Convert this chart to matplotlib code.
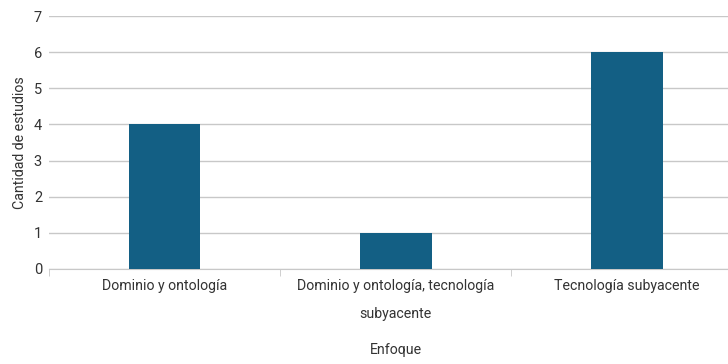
import matplotlib.pyplot as plt
import numpy as np

# data
categories = ['Dominio y ontología', 'Dominio y ontología, tecnología\nsubyacente', 'Tecnología subyacente']
counts = [4, 1, 6]

plt.rcParams['font.family'] = ['Roboto', 'DejaVu Sans']
plt.rcParams['font.weight'] = 'normal'

fig = plt.figure(figsize=(7.28, 3.64), dpi=100)
ax = fig.add_axes([49 / 728, 95 / 364, 693.5 / 728, 253 / 364])

x = np.arange(len(categories))
ax.bar(x, counts, width=0.31, color='#135f84', zorder=3)

ax.set_xlim(-0.5, 2.5)
ax.set_ylim(0, 7)
ax.set_yticks(range(8))
ax.yaxis.grid(True, color='#c8c8c8', linewidth=1, zorder=0)

txt = '#333333'
ax.set_xticks(x)
ax.set_xticklabels(categories, fontsize=10.2, color=txt, linespacing=2.2)
ax.set_xticks(np.arange(-0.5, 3, 1), minor=True)
ax.tick_params(axis='x', which='major', length=0, pad=7.5)
ax.tick_params(axis='x', which='minor', length=5, color='#c8c8c8', direction='out')
ax.tick_params(axis='y', length=0, labelsize=10.5, labelcolor=txt, pad=5)

for s in ['top', 'right', 'left']:
    ax.spines[s].set_visible(False)
ax.spines['bottom'].set_color('#c8c8c8')

ax.set_ylabel('Cantidad de estudios', fontsize=10.2, color=txt, labelpad=5)
ax.set_xlabel('Enfoque', fontsize=10.2, color=txt, labelpad=16)

fig.savefig('out.png', dpi=100)
